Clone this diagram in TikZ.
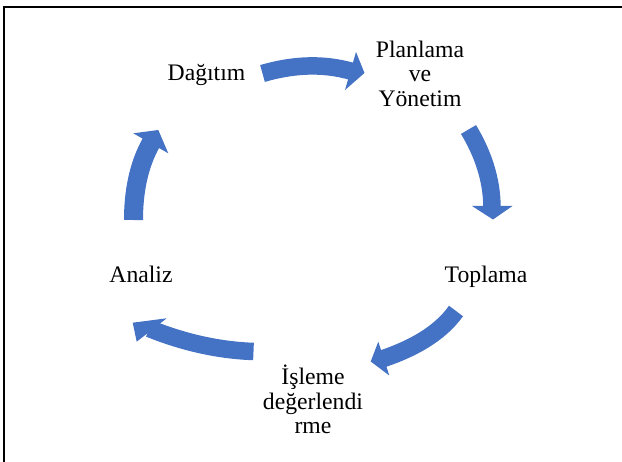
\documentclass[tikz,border=0pt]{standalone}
\usepackage{fontspec}
\setmainfont{Liberation Serif}
\definecolor{arrowblue}{HTML}{4472C4}
\tikzset{
  shaft/.style={draw=arrowblue, line width=17.5pt, line cap=butt, shorten >=-2pt},
  head/.style={fill=arrowblue, draw=none},
  lbl/.style={inner sep=0pt, font=\fontsize{23.7}{24.5}\selectfont, align=center, anchor=base},
  frame/.style={line width=2pt, line join=miter}
}
\begin{document}
\begin{tikzpicture}[x=1pt,y=-1pt]
\useasboundingbox (0,0) rectangle (622,462);
\draw[frame] (4,462) -- (4,6.7) -- (622,6.7);

% labels
\node[lbl] (dag) at (206.5,81) {Dağıtım};
\node[lbl] (plan) at (420,106.5) {Planlama\\ve\\Yönetim};
\node[lbl] (top) at (486,283) {Toplama};
\node[lbl] (isl) at (313,434) {İşleme\\değerlendi\\rme};
\node[lbl] (ana) at (141,283) {Analiz};

% arrow 1: Dagitim -> Planlama
\coordinate (a1t) at (262.5,73.5);
\coordinate (a1b) at (350.5,71);
\draw[shaft] (a1t) .. controls (291.3,65.1) and (321.7,62.6) .. (a1b);
\fill[head] (356,52) -- (364.5,73) -- (345,90) -- cycle;

% arrow 2: Planlama -> Toplama
\coordinate (a2t) at (468.5,129.5);
\coordinate (a2b) at (492,206);
\draw[shaft] (a2t) .. controls (482.4,152.6) and (492,179) .. (a2b);
\fill[head] (472,206) -- (493,219.5) -- (512.5,206) -- cycle;

% arrow 3: Toplama -> Isleme
\coordinate (a3t) at (456,311);
\coordinate (a3b) at (383.8,358.4);
\draw[shaft] (a3t) .. controls (439.2,334.6) and (411,349.3) .. (a3b);
\fill[head] (378.3,341.7) -- (370.7,361.5) -- (389.3,375.5) -- cycle;

% arrow 4: Isleme -> Analiz
\coordinate (a4t) at (253.5,351.5);
\coordinate (a4b) at (153,330);
\draw[shaft, shorten >=-4pt] (a4t) .. controls (219.5,350.3) and (184.5,342.75) .. (a4b);
\fill[head] (166.7,318.3) -- (132.7,322.7) -- (136.7,341.7) -- cycle;

% arrow 5: Analiz -> Dagitim
\coordinate (a5t) at (133.5,220);
\coordinate (a5b) at (150.8,143.3);
\draw[shaft, line width=19pt] (a5t) .. controls (133.5,194) and (137.8,165.9) .. (a5b);
\fill[head] (133.3,133.3) -- (158.3,130) -- (168.3,153.3) -- cycle;
\end{tikzpicture}
\end{document}
